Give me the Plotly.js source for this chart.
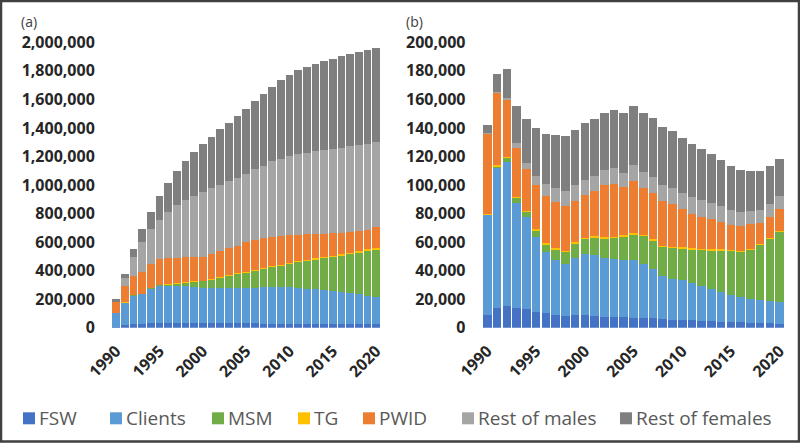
<!DOCTYPE html>
<html>
<head>
<meta charset="utf-8">
<script src="https://cdn.plot.ly/plotly-3.0.1.min.js"></script>
<style>
html,body{margin:0;padding:0;background:#fff;}
#chart{width:800px;height:443px;}
</style>
</head>
<body>
<div id="chart"></div>
<script>
// ---- data ----
const years = [1990,1991,1992,1993,1994,1995,1996,1997,1998,1999,2000,2001,2002,2003,2004,2005,2006,2007,2008,2009,2010,2011,2012,2013,2014,2015,2016,2017,2018,2019,2020];
const seriesNames = ["FSW","Clients","MSM","TG","PWID","Rest of males","Rest of females"];
const xTicks = [1990,1995,2000,2005,2010,2015,2020];
const yTicksA = [0,200000,400000,600000,800000,1000000,1200000,1400000,1600000,1800000,2000000];
const yTicksB = [0,20000,40000,60000,80000,100000,120000,140000,160000,180000,200000];

// Panel (a)
const fswA = [7000,19000,26000,28000,30000,31000,32000,32000,32000,32000,32000,31000,31000,31000,30000,30000,30000,29000,29000,28000,28000,27000,27000,26000,26000,25000,25000,24000,24000,23000,23000];
const clientsA = [98000,156000,198000,206000,243000,261000,262000,262000,258000,253000,248000,249000,249000,249000,250000,250000,250000,256000,256000,257000,255000,251000,246000,243000,236000,230000,223000,217000,210000,201000,190000];
const msmA = [500,1000,2000,2000,5000,5000,7000,14000,23000,35000,45000,54000,66000,80000,94000,104000,114000,124000,138000,149000,163000,180000,194000,208000,224000,240000,257000,273000,289000,313000,335000];
const tgA = [500,1000,1000,1500,2000,2500,3000,3500,4000,4500,5000,5500,6000,6500,7000,7000,7500,8000,8000,8500,9000,9000,9500,10000,10000,10500,11000,11000,11500,12000,12000];
const pwidA = [72000,115000,137000,152500,164000,179500,184000,179500,176000,168500,168000,174500,185000,189500,194000,207000,210500,209000,207000,202500,194000,185000,179500,169000,163000,155500,147000,143000,140500,138000,148000];
const restMalesA = [4000,58000,129000,210000,246000,279000,324000,366000,399000,431000,452000,462000,464000,470000,474000,480000,498000,508000,527000,539000,554000,563000,570000,580000,586000,591000,598000,603000,605000,602000,595000];
const restFemalesA = [19000,24000,56000,90000,124000,162000,202000,239000,274000,307000,337000,363000,389000,411000,432000,457000,479000,506000,522000,550000,568000,589000,603000,614000,624000,633000,643000,649000,654000,655000,655000];

// Panel (b)
const fswB = [8800,13900,15300,13900,13200,11200,10000,8800,8400,8600,8600,8100,7700,7400,7200,7000,6700,6500,5800,5600,5300,5100,4900,4400,4200,3900,3700,3500,3300,3000,2800];
const clientsB = [70000,97800,100900,73400,64200,52700,43000,38800,36400,40000,42700,42800,41300,40700,40000,40200,38100,34800,30400,28800,27900,26500,24600,23000,21100,19300,17900,16900,16200,15800,15300];
const msmB = [500,1200,2500,3500,3700,4200,5300,7200,8200,10200,11000,12300,13300,14600,16500,17800,19300,19600,20200,21400,22100,23200,24900,26700,28800,30500,31600,34200,38300,43200,48800];
const tgB = [300,900,900,1000,900,1100,1200,1200,1100,1100,900,1100,1100,1200,1100,1200,1200,1100,1200,900,1100,1200,1100,1000,1000,900,900,900,1200,1000,1200];
const pwidB = [56000,50700,39800,34300,29500,30900,33000,32300,31200,29100,30000,31600,36300,36500,33500,36700,32500,32500,31400,29900,26500,23700,22300,21100,19200,17600,17400,17000,14400,14800,15300];
const restMalesB = [1000,700,1600,3300,4200,6300,8100,9500,10600,10700,10600,10700,10900,11300,10400,10900,11400,11200,10900,11400,11400,12100,11900,11100,11000,10000,9600,9000,9100,9100,9100];
const restFemalesB = [5500,12600,20400,26200,30600,33200,35300,36900,38400,39000,39500,40000,40200,41200,42000,41800,41600,41300,40500,39800,38800,36900,35700,34200,32500,30900,29500,28400,27100,26500,26000];

// ---- styles ----
const colors = ["#4472C4","#5B9BD5","#70AD47","#FFC000","#ED7D31","#A5A5A5","#7F7F7F"];
const seriesA = [fswA, clientsA, msmA, tgA, pwidA, restMalesA, restFemalesA];
const seriesB = [fswB, clientsB, msmB, tgB, pwidB, restMalesB, restFemalesB];

const W = 800, H = 443;
const traces = [];
seriesNames.forEach((name, i) => {
  traces.push({type:'bar', x: years, y: seriesA[i], name: name, xaxis:'x', yaxis:'y',
    marker:{color: colors[i], line:{width:0}}, showlegend:false, hoverinfo:'skip'});
});
seriesNames.forEach((name, i) => {
  traces.push({type:'bar', x: years, y: seriesB[i], name: name, xaxis:'x2', yaxis:'y2',
    marker:{color: colors[i], line:{width:0}}, showlegend:false, hoverinfo:'skip'});
});

const tickFont = {family:'"Open Sans", sans-serif', size:16, color:'#262626', weight:'bold'};
const yDom = [(H-327.7)/H, (H-42.3)/H];

function xAxis(domain, anchor){
  return {domain: domain, anchor: anchor, range:[1989.5, 2020.5], tickvals: xTicks,
    ticktext: xTicks.map(String), tickangle:-45, tickfont: tickFont, showgrid:false,
    zeroline:false, showline:false, ticks:'', ticklabelstandoff:10, fixedrange:true};
}
function yAxis(domain, anchor, vals, maxv){
  return {domain: domain, anchor: anchor, range:[0, maxv], tickvals: vals,
    tickformat:',d', tickfont: tickFont, showgrid:false, zeroline:false, showline:false,
    ticks:'', ticklabelstandoff:16, fixedrange:true};
}

// manual legend
const legendSquares = [23,110,212,298,363,462,620];
const shapes = [];
const annotations = [];
const legY = 418.3;
seriesNames.forEach((name, i) => {
  const x0 = legendSquares[i];
  shapes.push({type:'rect', xref:'paper', yref:'paper', x0: x0/W, x1:(x0+12)/W,
    y0:(H-legY-6)/H, y1:(H-legY+6)/H, fillcolor: colors[i], line:{width:0}});
  annotations.push({xref:'paper', yref:'paper', x:(x0+15)/W, y:(H-legY)/H, xanchor:'left', yanchor:'middle',
    text: name, showarrow:false, borderpad:0, font:{family:'"Open Sans", sans-serif', size:19, color:'#595959'}});
});
annotations.push({xref:'paper', yref:'paper', x:20/W, y:(H-11)/H, xanchor:'left', yanchor:'top',
  text:'(a)', showarrow:false, borderpad:0, font:{family:'"Open Sans", sans-serif', size:14, color:'#404040'}});
annotations.push({xref:'paper', yref:'paper', x:405/W, y:(H-11)/H, xanchor:'left', yanchor:'top',
  text:'(b)', showarrow:false, borderpad:0, font:{family:'"Open Sans", sans-serif', size:14, color:'#404040'}});
// frame
shapes.push({type:'rect', xref:'paper', yref:'paper', x0:1/W, x1:(W-1)/W, y0:1.5/H, y1:(H-1)/H,
  line:{color:'#404040', width:2.5}, fillcolor:'rgba(0,0,0,0)'});

const layout = {
  width: W, height: H,
  margin:{l:0, r:0, t:0, b:0, pad:0},
  paper_bgcolor:'#ffffff', plot_bgcolor:'#ffffff',
  barmode:'stack', bargap:0.12,
  showlegend:false, hovermode:false,
  xaxis: xAxis([111.8/W, 380.5/W], 'y'),
  xaxis2: xAxis([482.5/W, 784.5/W], 'y2'),
  yaxis: yAxis(yDom, 'x', yTicksA, 2000000),
  yaxis2: yAxis(yDom, 'x2', yTicksB, 200000),
  shapes: shapes,
  annotations: annotations
};

Plotly.newPlot('chart', traces, layout, {staticPlot:true, displayModeBar:false});
</script>
</body>
</html>
